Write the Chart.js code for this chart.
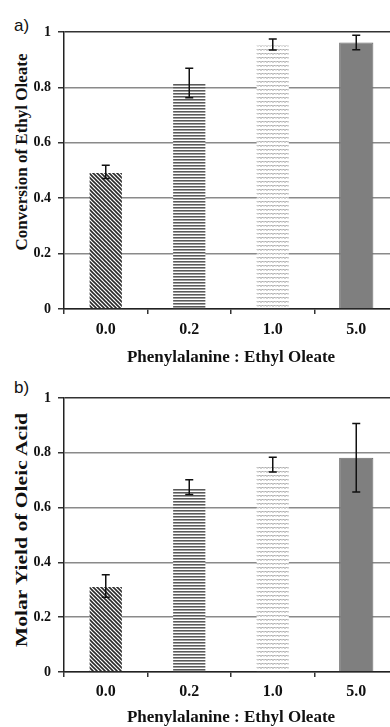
<!DOCTYPE html>
<html>
<head>
<meta charset="utf-8">
<script src="https://cdn.jsdelivr.net/npm/chart.js@4"></script>
<style>
  html, body { margin: 0; padding: 0; background: #fff; width: 390px; height: 727px; overflow: hidden; }
  body { position: relative; }
  canvas { position: absolute; left: 0; }
  .panel { position: absolute; font-family: "Liberation Sans", Arial, sans-serif; font-size: 17px; color: #111; }
  .ytitle { position: absolute; font-family: "Liberation Serif", "Times New Roman", serif; font-weight: bold;
            font-size: 17px; color: #111; white-space: nowrap; line-height: 1; }
</style>
</head>
<body>
<div class="panel" style="left:14px;top:16px;">a)</div>
<div class="panel" style="left:14px;top:378px;">b)</div>
<div class="ytitle" style="left:21px;top:152px;transform:translate(-50%,-50%) rotate(-90deg);">Conversion of Ethyl Oleate</div>
<div class="ytitle" style="left:21px;top:530px;transform:translate(-50%,-50%) rotate(-90deg) scaleX(1.27);">Molar Yield of Oleic Acid</div>
<canvas id="chartA" width="400" height="366" style="top:0"></canvas>
<canvas id="chartB" width="400" height="361" style="top:366px"></canvas>
<script>
const categories = ['0.0', '0.2', '1.0', '5.0'];
const conversion    = [0.495, 0.816, 0.955, 0.962];
const conversionErr = [0.024, 0.053, 0.020, 0.026];
const molarYield    = [0.314, 0.675, 0.757, 0.782];
const molarYieldErr = [0.041, 0.027, 0.027, 0.125];
const xTitle = 'Phenylalanine : Ethyl Oleate';

const SERIF = '"Liberation Serif", "Times New Roman", serif';

// fill patterns for the four bars
function makePattern(kind) {
  const c = document.createElement('canvas');
  const g = c.getContext('2d');
  if (kind === 'diag') {
    c.width = 4; c.height = 4;
    g.fillStyle = '#fff'; g.fillRect(0, 0, 4, 4);
    g.strokeStyle = '#2a2a2a'; g.lineWidth = 1.6;
    [-4, 0, 4].forEach(dx => {
      g.beginPath(); g.moveTo(dx - 1, -1); g.lineTo(dx + 5, 5); g.stroke();
    });
  } else if (kind === 'horiz') {
    c.width = 2; c.height = 3;
    g.fillStyle = '#fff'; g.fillRect(0, 0, 2, 3);
    g.fillStyle = '#5a5a5a'; g.fillRect(0, 0, 2, 1);
    g.fillStyle = '#a0a0a0'; g.fillRect(0, 1, 2, 1);
  } else if (kind === 'wave') {
    c.width = 6; c.height = 4;
    g.fillStyle = '#fff'; g.fillRect(0, 0, 6, 4);
    g.strokeStyle = '#959595'; g.lineWidth = 1;
    g.beginPath(); g.moveTo(0, 2.5); g.lineTo(1.5, 1); g.lineTo(3, 2.5); g.lineTo(4.5, 1); g.lineTo(6, 2.5); g.stroke();
  }
  return g.createPattern(c, 'repeat');
}

const fills = [makePattern('diag'), makePattern('horiz'), makePattern('wave'), '#7f7f7f'];
const borders = ['rgba(0,0,0,0)', 'rgba(0,0,0,0)', 'rgba(0,0,0,0)', '#6a6a6a'];

// error bars, drawn from the data through the y scale
const errorBars = {
  id: 'errorBars',
  afterDatasetsDraw(chart) {
    const errs = chart.options.plugins.errorBars.errors;
    const ds = chart.data.datasets[0];
    const meta = chart.getDatasetMeta(0);
    const y = chart.scales.y;
    const ctx = chart.ctx;
    ctx.save();
    ctx.strokeStyle = '#111';
    ctx.lineWidth = 1.5;
    meta.data.forEach((bar, i) => {
      const top = y.getPixelForValue(ds.data[i] + errs[i]);
      const bot = y.getPixelForValue(ds.data[i] - errs[i]);
      ctx.beginPath();
      ctx.moveTo(bar.x, top); ctx.lineTo(bar.x, bot);
      ctx.moveTo(bar.x - 4, top); ctx.lineTo(bar.x + 4, top);
      ctx.moveTo(bar.x - 4, bot); ctx.lineTo(bar.x + 4, bot);
      ctx.stroke();
    });
    ctx.restore();
  }
};

function drawPanel(canvasId, values, errors, xAxisHeight, tickPad, titlePadBottom) {
  return new Chart(document.getElementById(canvasId), {
    type: 'bar',
    data: {
      labels: categories,
      datasets: [{
        data: values,
        backgroundColor: fills,
        borderColor: borders,
        borderWidth: 1,
        barPercentage: 0.41,
        categoryPercentage: 1.0,
      }],
    },
    options: {
      responsive: false,
      animation: false,
      devicePixelRatio: 1,
      layout: { padding: { top: 32, left: 0, right: 2, bottom: 0 } },
      plugins: {
        legend: { display: false },
        tooltip: { enabled: false },
        errorBars: { errors },
      },
      scales: {
        x: {
          grid: { offset: true, drawOnChartArea: false, tickLength: 5, color: '#333', lineWidth: 1.5 },
          border: { color: '#222', width: 1.5 },
          ticks: { color: '#111', padding: tickPad, font: { family: SERIF, size: 16, weight: 'bold' } },
          title: {
            display: true, text: xTitle, color: '#111',
            padding: { top: 0, bottom: titlePadBottom },
            font: { family: SERIF, size: 17, weight: 'bold', lineHeight: 1 },
          },
          afterFit: s => { s.height = xAxisHeight; },
        },
        y: {
          min: 0, max: 1,
          grid: {
            color: c => (c.tick && Math.abs(c.tick.value - 1) < 1e-6 ? '#333' : '#8a8a8a'),
            tickColor: '#333', tickLength: 6, lineWidth: 1.5,
          },
          border: { color: '#222', width: 1.5 },
          ticks: {
            stepSize: 0.2, color: '#111', padding: 7,
            font: { family: SERIF, size: 14, weight: 'bold' },
            callback: v => (v === 0 || v === 1 ? String(v) : v.toFixed(1)),
          },
          afterFit: s => { s.width = 64; },
        },
      },
    },
    plugins: [errorBars],
  });
}

drawPanel('chartA', conversion, conversionErr, 57, 6, 0);
drawPanel('chartB', molarYield, molarYieldErr, 55, 5, 1);
</script>
</body>
</html>
